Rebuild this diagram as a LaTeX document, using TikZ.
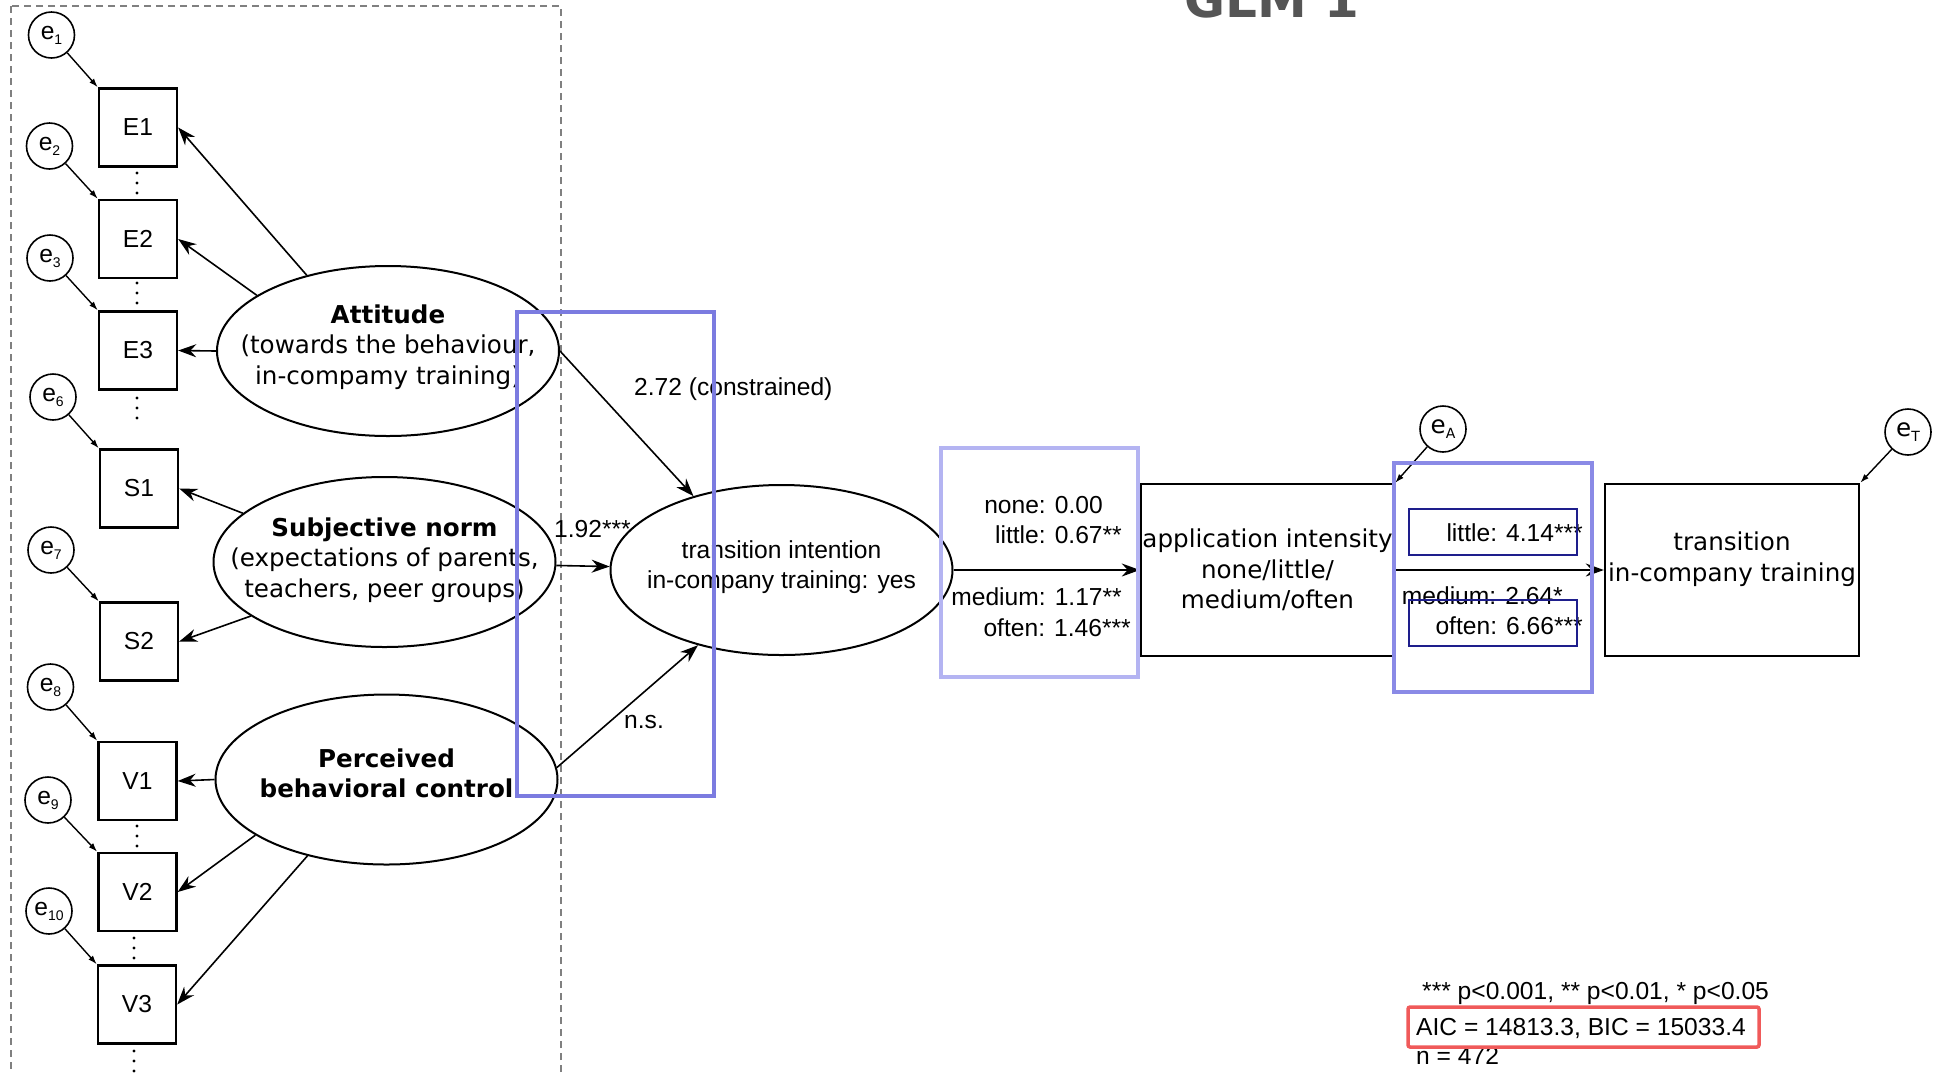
\documentclass[tikz,border=0pt]{standalone}
\usepackage{fontspec}
\setmainfont{Liberation Sans}
\newfontfamily\dejavu{DejaVu Sans}
\usetikzlibrary{arrows.meta}
\usetikzlibrary{shapes.geometric}
\tikzset{>={Stealth[length=18pt,width=13pt]}}
\definecolor{frameblue}{HTML}{7B7BE0}
\definecolor{paleblue}{HTML}{B4B4F2}
\definecolor{midblue}{HTML}{8A8AE6}
\definecolor{navy}{HTML}{1E1E8C}
\definecolor{aicred}{HTML}{F05A5A}
\definecolor{titlegray}{HTML}{555555}
\newcommand{\TXT}{\fontsize{24.6}{30}\selectfont}
\newcommand{\DVS}{\dejavu\fontsize{24.6}{30.5}\selectfont}
\newcommand{\err}[1]{e\raisebox{-5pt}{\fontsize{14}{14}\selectfont #1}}

\tikzset{
  latent/.style={ellipse, draw, line width=2pt, minimum width=342pt,
    minimum height=170pt, inner sep=0pt},
  obs/.style={rectangle, draw, line width=2.4pt, minimum size=78pt, inner sep=0pt},
  errc/.style={circle, draw, line width=1.6pt, minimum size=46pt, inner sep=0pt},
  load/.style={->, line width=1.6pt},
  erra/.style={-{Latex[length=9pt,width=6pt]}, line width=1.4pt},
  coef/.style={inner sep=0pt, anchor=base west},
  coefr/.style={inner sep=0pt, anchor=base east},
}

\begin{document}
\begin{tikzpicture}[x=1pt, y=-1pt, font=\TXT]
  \useasboundingbox (0,0) rectangle (1934,1072);

  \node[font=\dejavu\bfseries\fontsize{50}{50}\selectfont, text=titlegray,
    inner sep=0pt, anchor=base west] (title) at (1184,17) {GLM 1};

  \draw[dashed, dash pattern=on 7pt off 5pt, line width=1.4pt, gray]
    (11,6) rectangle (561,1110);

  %% indicators
  \node[obs] (E1) at (138,127.5) {E1};
  \node[obs] (E2) at (138,239) {E2};
  \node[obs] (E3) at (138,350.5) {E3};
  \node[obs] (S1) at (139,488.5) {S1};
  \node[obs] (S2) at (139,641.5) {S2};
  \node[obs] (V1) at (137.5,781) {V1};
  \node[obs] (V2) at (137.5,892) {V2};
  \node[obs] (V3) at (137,1004.5) {V3};

  \foreach \px/\py in {137/173, 137/283, 137/398, 137/826, 134/938, 134/1051}
    \foreach \d in {0,10,20}
      \fill (\px,\py+\d) circle (1.7pt);

  %% error terms
  \node[errc] (e1) at (51.5,35) {\err{1}};
  \node[errc] (e2) at (49.5,146) {\err{2}};
  \node[errc] (e3) at (50,258) {\err{3}};
  \node[errc] (e6) at (53,397) {\err{6}};
  \node[errc] (e7) at (51,550) {\err{7}};
  \node[errc] (e8) at (50.5,687) {\err{8}};
  \node[errc] (e9) at (48,800) {\err{9}};
  \node[errc] (e10) at (49,911) {\err{10}};

  \draw[erra] (e1) -- (E1.north west);
  \draw[erra] (e2) -- (E2.north west);
  \draw[erra] (e3) -- (E3.north west);
  \draw[erra] (e6) -- (S1.north west);
  \draw[erra] (e7) -- (S2.north west);
  \draw[erra] (e8) -- (V1.north west);
  \draw[erra] (e9) -- (V2.north west);
  \draw[erra] (e10) -- (V3.north west);

  %% latent variables
  \node[latent, label={[align=center, font=\DVS, yshift=4pt]center:{\textbf{Attitude}\\
    (towards the behaviour,\\in-compamy training)}}] (att) at (388,351) {};
  \node[latent, label={[align=center, font=\DVS, yshift=2pt]center:{\textbf{Subjective norm}\\
    (expectations of parents,\\teachers, peer groups)}}] (sub) at (384.5,562) {};
  \node[latent, label={[align=center, font=\DVS, yshift=6pt]center:{\textbf{Perceived}\\
    \textbf{behavioral control}}}] (perc) at (386.5,779.5) {};
  \node[latent, label={[align=center, yshift=3pt]center:{transition intention\\
    in-company training: yes}}] (trans) at (781.5,570) {};

  \draw[load] (att.137) -- (E1.east);
  \draw[load] (att.157) -- (E2.east);
  \draw[load] (att.west) -- (E3.east);
  \draw[load] (sub.161) -- (S1.east);
  \draw[load] (sub.202) -- (S2.east);
  \draw[load] (perc.west) -- (V1.east);
  \draw[load] (perc.203) -- (V2.east);
  \draw[load] (perc.224) -- (V3.east);

  \draw[load] (att.east) -- (trans.140);
  \draw[load] (sub) -- (trans);
  \draw[load] (perc.4) -- (trans.222);
  \node[coef] (c272) at (634,395) {2.72 (constrained)};
  \node[coef] (c192) at (554,537) {1.92***};
  \node[coef] (cns) at (624,728) {n.s.};

  %% outcomes
  \node[rectangle, draw, line width=2.4pt, minimum width=253pt, minimum height=172pt,
    inner sep=0pt, align=center, font=\DVS] (app) at (1267.5,570)
    {application intensity\\none/little/\\medium/often};
  \node[rectangle, draw, line width=2.4pt, minimum width=254pt, minimum height=172pt,
    inner sep=0pt, label={[align=center, font=\DVS, yshift=11pt]center:{transition\\
    in-company training}}] (tbox) at (1732,570) {};
  \node[errc, font=\DVS] (eA) at (1443,429) {\err{A}};
  \node[errc, font=\DVS] (eT) at (1908,432) {\err{T}};

  \draw[load] (trans) -- (app);
  \draw[load] (app) -- (tbox);
  \draw[erra] (eA) -- (app.north east);
  \draw[erra] (eT) -- (tbox.north east);

  \node[coefr] (t0) at (1103,513) {none: 0.00};
  \node[coefr] (t1) at (1122,543) {little: 0.67**};
  \node[coefr] (t2) at (1122,605) {medium: 1.17**};
  \node[coefr] (t3) at (1131,636) {often: 1.46***};

  \node[coefr] (a1) at (1583,541) {little: 4.14***};
  \node[coefr] (a2) at (1563,604) {medium: 2.64*};
  \node[coefr] (a3) at (1583,634) {often: 6.66***};

  %% fit
  \node[coef] (psig) at (1422,999) {*** p<0.001, ** p<0.01, * p<0.05};
  \node[coef] (aic) at (1416,1035) {AIC = 14813.3, BIC = 15033.4};
  \node[coef] (nobs) at (1416,1064) {n = 472};

  %% highlights
  \draw[frameblue, line width=3.5pt] (517,312) rectangle (714,796);
  \draw[paleblue, line width=3.5pt] (941,448) rectangle (1138,677);
  \draw[midblue, line width=3.5pt] (1394,463) rectangle (1592,692);
  \draw[navy, line width=1.8pt] (1409,509) rectangle (1577,555);
  \draw[navy, line width=1.8pt] (1409,600) rectangle (1577,646);
  \draw[aicred, line width=3.5pt, rounded corners=2pt] (1408,1007) rectangle (1759,1047);

\end{tikzpicture}
\end{document}
